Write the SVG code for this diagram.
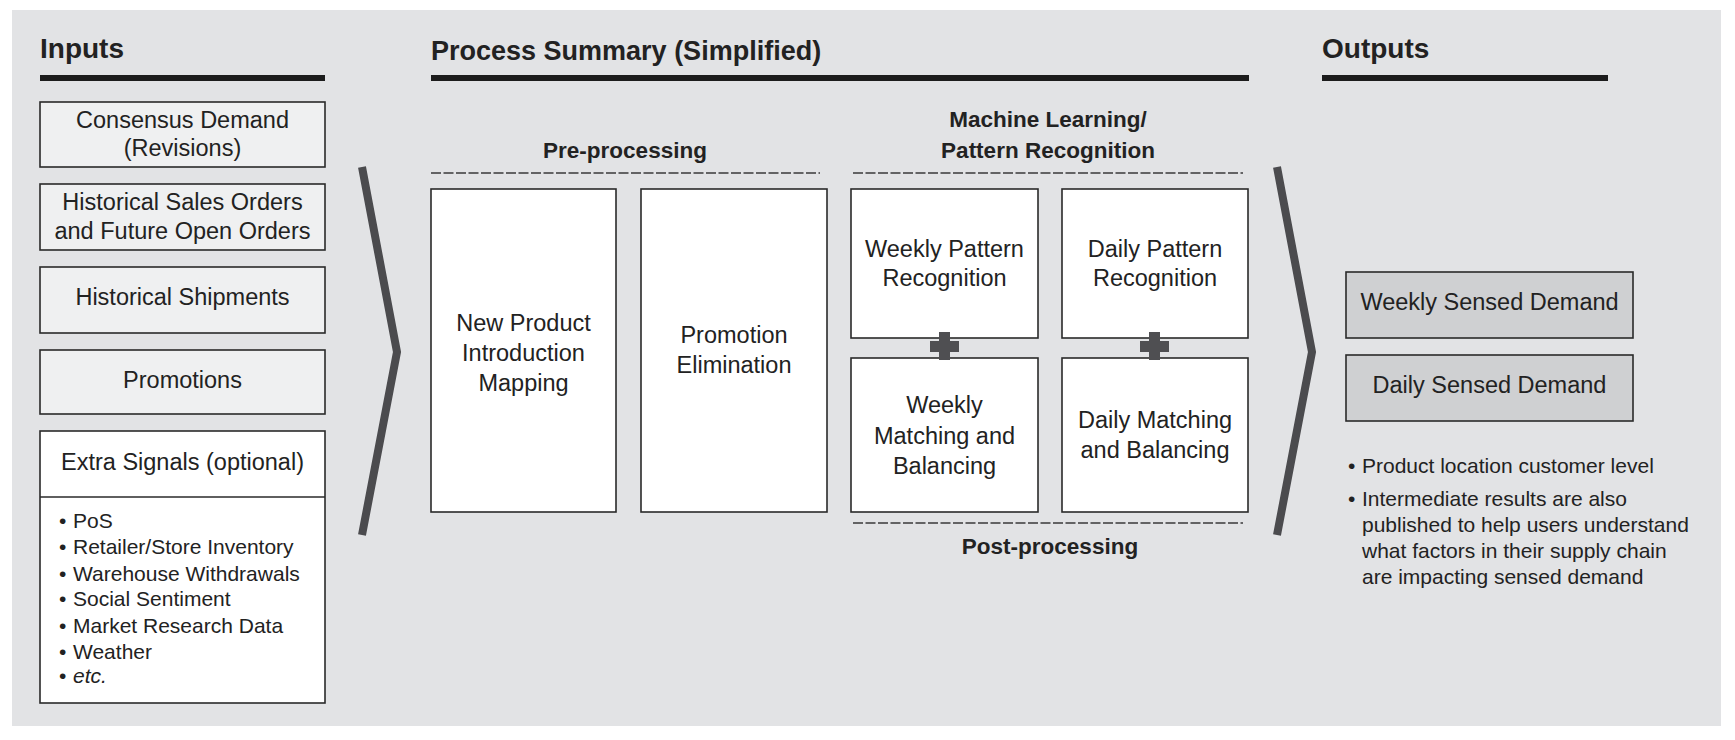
<svg xmlns="http://www.w3.org/2000/svg" width="1735" height="740" viewBox="0 0 1735 740">
<style>
text{font-family:"Liberation Sans",Arial,sans-serif;fill:#222;}
.t{font-size:28px;font-weight:bold;}
.l{font-size:22.5px;font-weight:bold;text-anchor:middle;}
.b{font-size:23.5px;text-anchor:middle;}
.s{font-size:21px;}
.box{fill:#eff0f1;stroke:#2a2a2a;stroke-width:1.6;}
.wbox{fill:#ffffff;stroke:#2a2a2a;stroke-width:1.6;}
.obox{fill:#cfd0d2;stroke:#2a2a2a;stroke-width:1.6;}
.ul{stroke:#1c1c1c;stroke-width:6;}
.dash{stroke:#3a3a3a;stroke-width:1.6;stroke-dasharray:10 2.5;fill:none;}
.chev{fill:none;stroke:#4b4b4e;stroke-width:8;stroke-linejoin:miter;}
.plus{fill:#4f4f52;}
</style>
<rect x="12" y="10" width="1709" height="716" fill="#e2e3e5"/>

<g id="headers">
<text class="t" x="40" y="58">Inputs</text>
<line class="ul" x1="40" y1="78" x2="325" y2="78"/>
<text class="t" x="431" y="60" style="font-size:27px">Process Summary (Simplified)</text>
<line class="ul" x1="431" y1="78" x2="1249" y2="78"/>
<text class="t" x="1322" y="58">Outputs</text>
<line class="ul" x1="1322" y1="78" x2="1608" y2="78"/>
<text class="l" x="625" y="158">Pre-processing</text>
<line class="dash" x1="431" y1="173" x2="820" y2="173"/>
<text class="l" x="1048" y="127">Machine Learning/</text>
<text class="l" x="1048" y="158">Pattern Recognition</text>
<line class="dash" x1="853" y1="173" x2="1243" y2="173"/>
<line class="dash" x1="853" y1="523" x2="1243" y2="523"/>
<text class="l" x="1050" y="554">Post-processing</text>
</g>

<g id="in-consensus">
<rect class="box" x="40" y="102" width="285" height="65"/>
<text class="b" x="182.5" y="128">Consensus Demand</text>
<text class="b" x="182.5" y="156">(Revisions)</text>
</g>
<g id="in-sales">
<rect class="box" x="40" y="184" width="285" height="66"/>
<text class="b" x="182.5" y="210">Historical Sales Orders</text>
<text class="b" x="182.5" y="239">and Future Open Orders</text>
</g>
<g id="in-shipments">
<rect class="box" x="40" y="267" width="285" height="66"/>
<text class="b" x="182.5" y="305">Historical Shipments</text>
</g>
<g id="in-promotions">
<rect class="box" x="40" y="350" width="285" height="64"/>
<text class="b" x="182.5" y="388">Promotions</text>
</g>
<g id="in-extra">
<rect class="wbox" x="40" y="431" width="285" height="272"/>
<line x1="40" y1="497" x2="325" y2="497" stroke="#2a2a2a" stroke-width="1.6"/>
<text class="b" x="182.5" y="470">Extra Signals (optional)</text>
<text class="s" x="59" y="528">•</text><text class="s" x="73" y="528">PoS</text>
<text class="s" x="59" y="554">•</text><text class="s" x="73" y="554">Retailer/Store Inventory</text>
<text class="s" x="59" y="581">•</text><text class="s" x="73" y="581">Warehouse Withdrawals</text>
<text class="s" x="59" y="606">•</text><text class="s" x="73" y="606">Social Sentiment</text>
<text class="s" x="59" y="633">•</text><text class="s" x="73" y="633">Market Research Data</text>
<text class="s" x="59" y="659">•</text><text class="s" x="73" y="659">Weather</text>
<text class="s" x="59" y="683">•</text><text class="s" x="73" y="683" font-style="italic">etc.</text>
</g>

<g id="connectors">
<polyline class="chev" points="362,167 397,352 362,535"/>
<polyline class="chev" points="1277,167 1312,352 1277,535"/>
</g>

<g id="p-npi">
<rect class="wbox" x="431" y="189" width="185" height="323"/>
<text class="b" x="523.5" y="331">New Product</text>
<text class="b" x="523.5" y="361">Introduction</text>
<text class="b" x="523.5" y="391">Mapping</text>
</g>
<g id="p-promo">
<rect class="wbox" x="641" y="189" width="186" height="323"/>
<text class="b" x="734" y="343">Promotion</text>
<text class="b" x="734" y="373">Elimination</text>
</g>
<g id="p-weekly-pattern">
<rect class="wbox" x="851" y="189" width="187" height="149"/>
<text class="b" x="944.5" y="257">Weekly Pattern</text>
<text class="b" x="944.5" y="286">Recognition</text>
</g>
<g id="p-daily-pattern">
<rect class="wbox" x="1062" y="189" width="186" height="149"/>
<text class="b" x="1155" y="257">Daily Pattern</text>
<text class="b" x="1155" y="286">Recognition</text>
</g>
<g id="p-weekly-match">
<rect class="wbox" x="851" y="358" width="187" height="154"/>
<text class="b" x="944.5" y="413">Weekly</text>
<text class="b" x="944.5" y="444">Matching and</text>
<text class="b" x="944.5" y="474">Balancing</text>
</g>
<g id="p-daily-match">
<rect class="wbox" x="1062" y="358" width="186" height="154"/>
<text class="b" x="1155" y="428">Daily Matching</text>
<text class="b" x="1155" y="458">and Balancing</text>
</g>
<g id="plus-weekly">
<rect class="plus" x="930" y="341" width="29" height="11"/>
<rect class="plus" x="939" y="332" width="11" height="28"/>
</g>
<g id="plus-daily">
<rect class="plus" x="1140" y="341" width="29" height="11"/>
<rect class="plus" x="1149" y="332" width="11" height="28"/>
</g>

<g id="out-weekly">
<rect class="obox" x="1346" y="272" width="287" height="66"/>
<text class="b" x="1489.5" y="310">Weekly Sensed Demand</text>
</g>
<g id="out-daily">
<rect class="obox" x="1346" y="355" width="287" height="66"/>
<text class="b" x="1489.5" y="393">Daily Sensed Demand</text>
</g>
<g id="out-notes">
<text class="s" x="1348" y="473">•</text><text class="s" x="1362" y="473">Product location customer level</text>
<text class="s" x="1348" y="506">•</text><text class="s" x="1362" y="506">Intermediate results are also</text>
<text class="s" x="1362" y="532">published to help users understand</text>
<text class="s" x="1362" y="558">what factors in their supply chain</text>
<text class="s" x="1362" y="584">are impacting sensed demand</text>
</g>
</svg>
